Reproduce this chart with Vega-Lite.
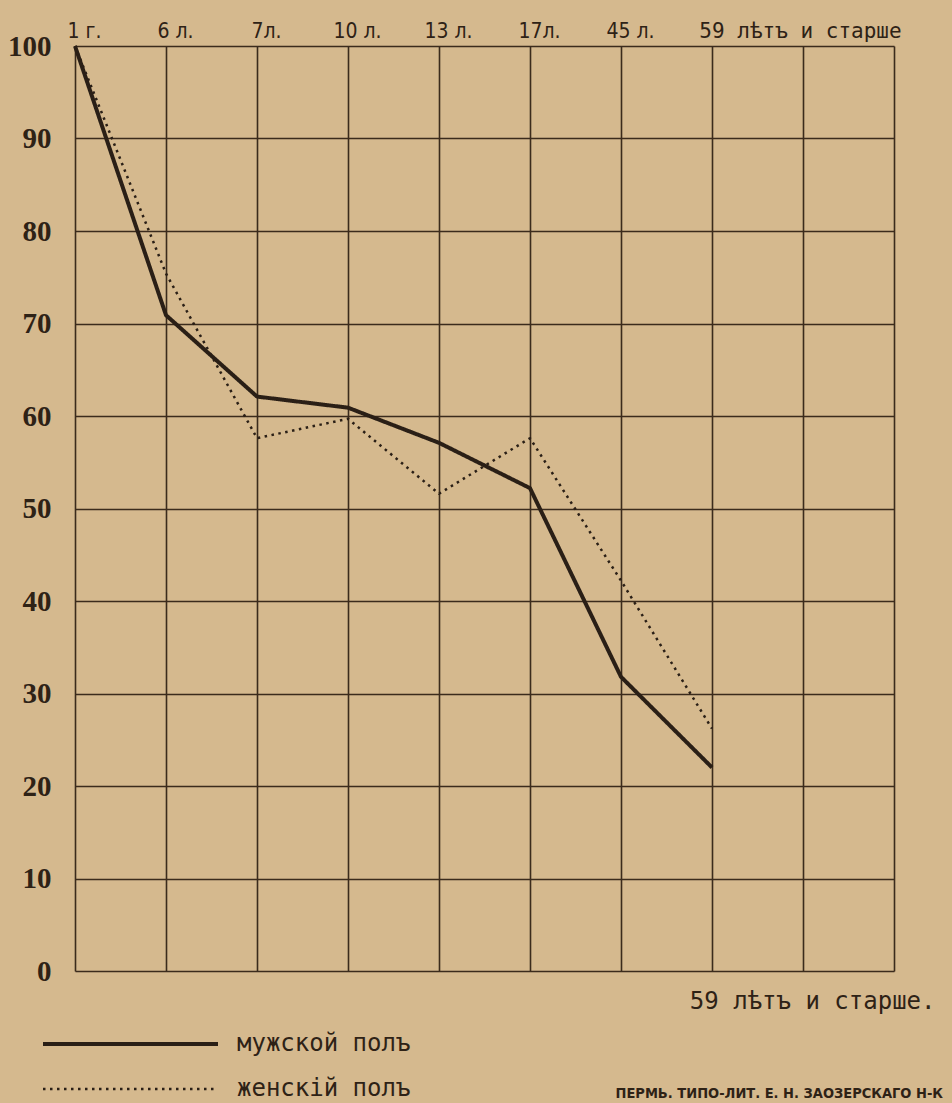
{
  "$schema": "https://vega.github.io/schema/vega-lite/v6.json",
  "width": 819,
  "height": 925,
  "autosize": {"type": "none"},
  "padding": {"left": 75, "top": 46, "right": 58, "bottom": 132},
  "background": "#d5b98e",
  "config": {"view": {"stroke": null}},
  "data": {
    "values": [
      {"age": "1 г.", "sex": "мужской полъ", "pct": 100},
      {"age": "6 л.", "sex": "мужской полъ", "pct": 70.9},
      {"age": "7л.", "sex": "мужской полъ", "pct": 62.1},
      {"age": "10 л.", "sex": "мужской полъ", "pct": 60.9},
      {"age": "13 л.", "sex": "мужской полъ", "pct": 57.1},
      {"age": "17л.", "sex": "мужской полъ", "pct": 52.2},
      {"age": "45 л.", "sex": "мужской полъ", "pct": 31.8},
      {"age": "59 лѣтъ и старше", "sex": "мужской полъ", "pct": 22.0},
      {"age": "1 г.", "sex": "женскій полъ", "pct": 100},
      {"age": "6 л.", "sex": "женскій полъ", "pct": 75.4},
      {"age": "7л.", "sex": "женскій полъ", "pct": 57.6},
      {"age": "10 л.", "sex": "женскій полъ", "pct": 59.7},
      {"age": "13 л.", "sex": "женскій полъ", "pct": 51.6},
      {"age": "17л.", "sex": "женскій полъ", "pct": 57.6},
      {"age": "45 л.", "sex": "женскій полъ", "pct": 42.2},
      {"age": "59 лѣтъ и старше", "sex": "женскій полъ", "pct": 26.2}
    ]
  },
  "mark": {"type": "line", "color": "#2a1f16", "strokeJoin": "round"},
  "encoding": {
    "x": {
      "field": "age",
      "type": "ordinal",
      "sort": null,
      "scale": {
        "type": "point",
        "padding": 0,
        "domain": ["1 г.", "6 л.", "7л.", "10 л.", "13 л.", "17л.", "45 л.", "59 лѣтъ и старше", "_a", "_b"]
      },
      "axis": {
        "orient": "top",
        "domain": false,
        "ticks": false,
        "grid": true,
        "gridColor": "#3b2b1c",
        "gridWidth": 1.6,
        "gridOpacity": 1,
        "labelExpr": "indexof(datum.value, '_') == 0 ? '' : datum.value",
        "labelAngle": 0,
        "labelAlign": "center",
        "labelBaseline": "alphabetic",
        "labelOffset": {"condition": {"test": "datum.value == '59 лѣтъ и старше'", "value": 88}, "value": 9},
        "labelPadding": 9,
        "labelLimit": 400,
        "labelOverlap": false,
        "labelFont": {"condition": {"test": "datum.value == '59 лѣтъ и старше'", "value": "DejaVu Sans Mono"}, "value": "DejaVu Sans Condensed"},
        "labelFontSize": 21,
        "labelColor": "#2e2216",
        "title": "ПЕРМЬ. ТИПО-ЛИТ. Е. Н. ЗАОЗЕРСКАГО Н-К",
        "titleX": 540,
        "titleY": 1051,
        "titleAlign": "left",
        "titleAnchor": null,
        "titleBaseline": "alphabetic",
        "titleFont": "DejaVu Sans Condensed",
        "titleFontWeight": "bold",
        "titleFontSize": 14.5,
        "titleLimit": 500,
        "titleColor": "#2e2216"
      }
    },
    "y": {
      "field": "pct",
      "type": "quantitative",
      "scale": {"domain": [0, 100], "nice": false},
      "axis": {
        "domain": false,
        "ticks": false,
        "values": [0, 10, 20, 30, 40, 50, 60, 70, 80, 90, 100],
        "grid": true,
        "gridColor": "#3b2b1c",
        "gridWidth": 1.6,
        "gridOpacity": 1,
        "labelPadding": 24,
        "labelFont": "Liberation Serif",
        "labelFontWeight": "bold",
        "labelFontSize": 29,
        "labelColor": "#2e2216",
        "labelBaseline": "middle",
        "labelFlush": false,
        "title": "59 лѣтъ и старше.",
        "titleAngle": 0,
        "titleX": 860,
        "titleY": 962,
        "titleAlign": "right",
        "titleAnchor": null,
        "titleBaseline": "alphabetic",
        "titleFont": "DejaVu Sans Mono",
        "titleFontWeight": "normal",
        "titleFontSize": 24,
        "titleLimit": 500,
        "titleColor": "#2e2216"
      }
    },
    "strokeDash": {
      "field": "sex",
      "type": "nominal",
      "scale": {"domain": ["мужской полъ", "женскій полъ"], "range": [[1, 0], [2.5, 4.5]]},
      "legend": {
        "orient": "none",
        "legendX": -42,
        "legendY": 986,
        "title": null,
        "symbolType": "M-1,0H86.5",
        "symbolSize": 16,
        "symbolStrokeColor": "#2a1f16",
        "labelFont": "DejaVu Sans Mono",
        "labelFontSize": 24,
        "labelColor": "#2e2216",
        "labelOffset": 180,
        "labelBaseline": "middle",
        "labelLimit": 400,
        "rowPadding": 21
      }
    },
    "strokeWidth": {
      "field": "sex",
      "type": "nominal",
      "scale": {"domain": ["мужской полъ", "женскій полъ"], "range": [4, 2.5]},
      "legend": {
        "orient": "none",
        "legendX": -42,
        "legendY": 986,
        "title": null,
        "symbolType": "M-1,0H86.5",
        "symbolSize": 16,
        "symbolStrokeColor": "#2a1f16",
        "labelFont": "DejaVu Sans Mono",
        "labelFontSize": 24,
        "labelColor": "#2e2216",
        "labelOffset": 180,
        "labelBaseline": "middle",
        "labelLimit": 400,
        "rowPadding": 21
      }
    },
    "order": {"value": null}
  }
}
